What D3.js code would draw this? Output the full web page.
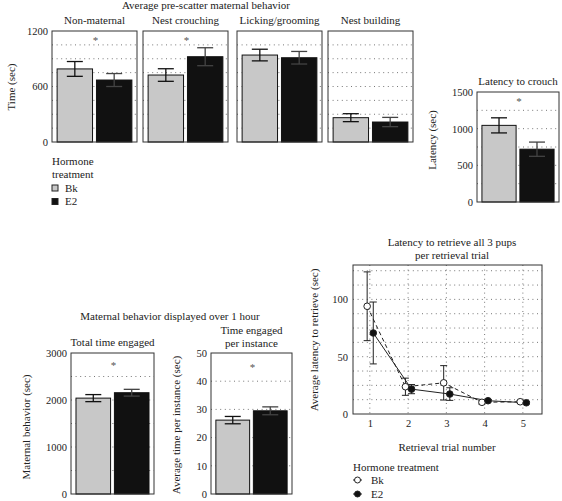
<!DOCTYPE html>
<html><head><meta charset="utf-8">
<script src="https://cdn.jsdelivr.net/npm/d3@7"></script>
<style>body{margin:0;background:#fff}</style>
</head><body><svg id="c" width="562" height="501" font-family="Liberation Serif, DejaVu Serif, serif"></svg>
<script>
// ---------- DATA ----------
const groups = ["Bk", "E2"];
const preCategories = ["Non-maternal", "Nest crouching", "Licking/grooming", "Nest building"];
const preBk = [790, 724, 940, 263];
const preBkErr = [80, 68, 63, 43];
const preE2 = [670, 922, 911, 216];
const preE2Err = [70, 97, 68, 50];
const preSig = [true, true, false, false];
const preTicks = [0, 600, 1200];

const crouchBk = 1045, crouchBkErr = 103;
const crouchE2 = 720, crouchE2Err = 97;
const crouchTicks = [0, 500, 1000, 1500];

const totalBk = 2040, totalBkErr = 75;
const totalE2 = 2155, totalE2Err = 72;
const totalTicks = [0, 1000, 2000, 3000];

const instBk = 26.2, instBkErr = 1.3;
const instE2 = 29.5, instE2Err = 1.4;
const instTicks = [0, 10, 20, 30, 40, 50];

const trials = [1, 2, 3, 4, 5];
const retBk = [94, 23.8, 27.2, 10.2, 10.7];
const retBkErr = [30, 7.5, 15, 1.5, 1];
const retE2 = [70.7, 21.7, 17.4, 11.6, 9.8];
const retE2Err = [27, 4, 5.5, 1, 1];
const retTicks = [0, 50, 100];

// ---------- STYLE ----------
const FONT = "Liberation Serif, DejaVu Serif, serif";
const svg = d3.select("#c");
svg.append("rect").attr("width", 562).attr("height", 501).attr("fill", "#fff");
const FS = 11, TFS = 10.5;
const fill = {Bk: "#c8c8c8", E2: "#111"};

function txt(x, y, s, opts = {}) {
  const t = svg.append("text").attr("x", x).attr("y", y).text(s)
    .attr("font-family", FONT).attr("fill", "#222")
    .attr("font-size", opts.size || FS).attr("text-anchor", opts.anchor || "middle");
  if (opts.rot) t.attr("transform", `rotate(-90,${x},${y})`);
  return t;
}
function styleAxis(ax) {
  ax.attr("font-family", FONT);
  ax.select(".domain").remove();
  ax.selectAll("text").attr("font-size", TFS).attr("font-family", FONT).attr("fill", "#222");
}

function barPanel(p) {
  const g = svg.append("g");
  const y = d3.scaleLinear().domain([0, p.max]).range([p.y1, p.y0]);
  const x = d3.scaleBand().domain(groups).range([p.x0, p.x1]).paddingInner(0.1).paddingOuter(0.13);
  g.selectAll(".grid").data(d3.range(p.step, p.max, p.step)).join("line")
    .attr("x1", p.x0).attr("x2", p.x1).attr("y1", d => y(d)).attr("y2", d => y(d))
    .attr("stroke", "#777").attr("stroke-width", 1).attr("stroke-dasharray", "1,3.6");
  const vals = [{k: "Bk", v: p.bk, e: p.bkErr}, {k: "E2", v: p.e2, e: p.e2Err}];
  g.selectAll(".bar").data(vals).join("rect")
    .attr("x", d => x(d.k)).attr("width", x.bandwidth())
    .attr("y", d => y(d.v)).attr("height", d => y(0) - y(d.v))
    .attr("fill", d => fill[d.k]).attr("stroke", "#111").attr("stroke-width", 1);
  const cap = 8;
  vals.forEach(d => {
    const cx = x(d.k) + x.bandwidth() / 2;
    const col = d.k === "E2" ? "#444" : "#111";
    g.append("line").attr("x1", cx).attr("x2", cx).attr("y1", y(d.v + d.e)).attr("y2", y(d.v - d.e)).attr("stroke", col).attr("stroke-width", 1.3);
    [d.v + d.e, d.v - d.e].forEach(v => g.append("line").attr("x1", cx - cap).attr("x2", cx + cap).attr("y1", y(v)).attr("y2", y(v)).attr("stroke", col).attr("stroke-width", 1.3));
  });
  g.append("rect").attr("x", p.x0).attr("y", p.y0).attr("width", p.x1 - p.x0).attr("height", p.y1 - p.y0)
    .attr("fill", "none").attr("stroke", "#333").attr("stroke-width", 1);
  if (p.ticks) {
    const ax = g.append("g").attr("transform", `translate(${p.x0},0)`)
      .call(d3.axisLeft(y).tickValues(p.ticks).tickFormat(d3.format("d")).tickSize(0).tickPadding(4));
    styleAxis(ax);
  }
  if (p.sig) {
    const sx = (x("Bk") + x.bandwidth() + x("E2")) / 2 + 1;
    g.append("text").attr("x", sx).attr("y", p.y0 + p.sigDy).attr("text-anchor", "middle")
      .attr("font-family", FONT).attr("font-size", 11).attr("fill", "#555").text("*");
  }
  if (p.title) txt((p.x0 + p.x1) / 2, p.titleY, p.title);
}

// ---------- TOP: pre-scatter ----------
txt(206, 8.5, "Average pre-scatter maternal behavior");
const preX = [52, 143, 237, 328];
preCategories.forEach((c, i) => {
  barPanel({x0: preX[i], x1: preX[i] + 85, y0: 31, y1: 142, max: 1200, step: 150,
    bk: preBk[i], bkErr: preBkErr[i], e2: preE2[i], e2Err: preE2Err[i],
    sig: preSig[i], sigDy: 13, ticks: i === 0 ? preTicks : null, title: c, titleY: 24});
});
txt(15, 87, "Time (sec)", {rot: true});
txt(52, 165, "Hormone", {anchor: "start"});
txt(52, 177.5, "treatment", {anchor: "start"});
groups.forEach((gname, i) => {
  svg.append("rect").attr("x", 52).attr("y", 185 + i * 13.5).attr("width", 6).attr("height", 6)
    .attr("fill", fill[gname]).attr("stroke", "#222").attr("stroke-width", 1);
  txt(65, 191.5 + i * 13.5, gname, {anchor: "start"});
});

// ---------- Latency to crouch ----------
barPanel({x0: 477, x1: 559, y0: 92, y1: 202, max: 1500, step: 250,
  bk: crouchBk, bkErr: crouchBkErr, e2: crouchE2, e2Err: crouchE2Err,
  sig: true, sigDy: 13, ticks: crouchTicks, title: "Latency to crouch", titleY: 85});
txt(436, 140, "Latency (sec)", {rot: true});

// ---------- Bottom left ----------
txt(170, 320, "Maternal behavior displayed over 1 hour");
barPanel({x0: 71, x1: 154, y0: 353, y1: 494, max: 3000, step: 500,
  bk: totalBk, bkErr: totalBkErr, e2: totalE2, e2Err: totalE2Err,
  sig: true, sigDy: 16, ticks: totalTicks, title: "Total time engaged", titleY: 346});
txt(30, 427, "Maternal behavior (sec)", {rot: true});
barPanel({x0: 211, x1: 292, y0: 353, y1: 494, max: 50, step: 10,
  bk: instBk, bkErr: instBkErr, e2: instE2, e2Err: instE2Err,
  sig: true, sigDy: 18, ticks: instTicks, title: "Time engaged", titleY: 334});
txt(251.5, 346.5, "per instance");
txt(180, 425, "Average time per instance (sec)", {rot: true});

// ---------- Line chart ----------
(function () {
  const x0 = 353, x1 = 542, y0 = 265, y1 = 414;
  const x = d3.scaleLinear().domain([0.56, 5.5]).range([x0, x1]);
  const y = d3.scaleLinear().domain([0, 130]).range([y1, y0]);
  const g = svg.append("g");
  g.selectAll(".hg").data(d3.range(12.5, 130, 12.5)).join("line")
    .attr("x1", x0).attr("x2", x1).attr("y1", d => y(d)).attr("y2", d => y(d))
    .attr("stroke", "#777").attr("stroke-dasharray", "1,3.6");
  g.selectAll(".vg").data(trials).join("line")
    .attr("x1", d => x(d)).attr("x2", d => x(d)).attr("y1", y0).attr("y2", y1)
    .attr("stroke", "#777").attr("stroke-dasharray", "1,3.6");
  g.append("rect").attr("x", x0).attr("y", y0).attr("width", x1 - x0).attr("height", y1 - y0)
    .attr("fill", "none").attr("stroke", "#333");
  const series = [
    {k: "Bk", v: retBk, e: retBkErr, off: -0.07, dash: "4,3", f: "#fff"},
    {k: "E2", v: retE2, e: retE2Err, off: 0.09, dash: null, f: "#111"}
  ];
  series.forEach(s => {
    const pts = trials.map((t, i) => ({t: t + s.off, v: s.v[i], e: s.e[i]}));
    pts.forEach(p => {
      const cx = x(p.t);
      g.append("line").attr("x1", cx).attr("x2", cx).attr("y1", y(p.v + p.e)).attr("y2", y(p.v - p.e)).attr("stroke", "#222").attr("stroke-width", 1);
      [p.v + p.e, p.v - p.e].forEach(v => g.append("line").attr("x1", cx - 3.5).attr("x2", cx + 3.5).attr("y1", y(v)).attr("y2", y(v)).attr("stroke", "#222"));
    });
    g.append("path").datum(pts).attr("d", d3.line().x(d => x(d.t)).y(d => y(d.v)))
      .attr("fill", "none").attr("stroke", "#222").attr("stroke-width", 1).attr("stroke-dasharray", s.dash);
  });
  series.forEach(s => {
    g.selectAll(".pt" + s.k).data(trials).join("circle")
      .attr("cx", (d) => x(d + s.off)).attr("cy", (d, i) => y(s.v[i])).attr("r", 3.3)
      .attr("fill", s.f).attr("stroke", "#222").attr("stroke-width", 1);
  });
  const ay = g.append("g").attr("transform", `translate(${x0},0)`)
    .call(d3.axisLeft(y).tickValues(retTicks).tickSize(0).tickPadding(5));
  styleAxis(ay);
  const axx = g.append("g").attr("transform", `translate(0,${y1})`)
    .call(d3.axisBottom(x).tickValues(trials).tickFormat(d3.format("d")).tickSize(0).tickPadding(6));
  styleAxis(axx);
  txt(452, 246, "Latency to retrieve all 3 pups");
  txt(452, 259, "per retrieval trial");
  txt(447, 451, "Retrieval trial number");
  txt(318, 340, "Average latency to retrieve (sec)", {rot: true});
  txt(353, 471, "Hormone treatment", {anchor: "start"});
  series.forEach((s, i) => {
    const ly = 480 + i * 14;
    g.append("line").attr("x1", 353).attr("x2", 362).attr("y1", ly).attr("y2", ly).attr("stroke", "#222");
    g.append("circle").attr("cx", 357.5).attr("cy", ly).attr("r", 3).attr("fill", s.f).attr("stroke", "#222");
    txt(371, ly + 3.5, s.k, {anchor: "start"});
  });
})();
</script></body></html>
